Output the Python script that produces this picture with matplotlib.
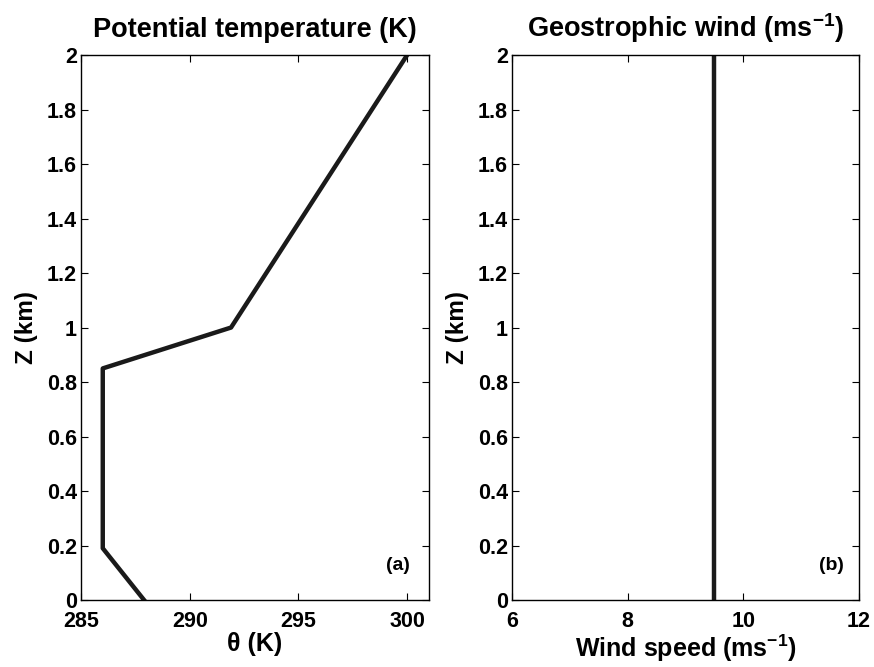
import numpy as np
import matplotlib
matplotlib.use("Agg")
import matplotlib.pyplot as plt

# profile data
z_theta = [0.0, 0.19, 0.85, 1.0, 2.0]          # km
theta = [287.9, 286.0, 286.0, 291.9, 300.0]    # K
z_wind = [0.0, 2.0]                            # km
wind = [9.5, 9.5]                              # m/s

yticks = [0, 0.2, 0.4, 0.6, 0.8, 1, 1.2, 1.4, 1.6, 1.8, 2]
ytick_labels = ["0", "0.2", "0.4", "0.6", "0.8", "1", "1.2", "1.4", "1.6", "1.8", "2"]
theta_ticks = [285, 290, 295, 300]
wind_ticks = [6, 8, 10, 12]

plt.rcParams["font.family"] = ["Liberation Sans", "DejaVu Sans"]
plt.rcParams["font.weight"] = "bold"
plt.rcParams["mathtext.fontset"] = "custom"
plt.rcParams["mathtext.rm"] = "Liberation Sans:bold"
plt.rcParams["mathtext.it"] = "Liberation Sans:bold"
plt.rcParams["mathtext.bf"] = "Liberation Sans:bold"

fig = plt.figure(figsize=(8.74, 6.67), dpi=100)
ax1 = fig.add_axes([0.0927, 0.1004, 0.398, 0.8171])
ax2 = fig.add_axes([0.5858, 0.1004, 0.397, 0.8171])

ax1.plot(theta, z_theta, color="#1a1a1a", lw=3.2, solid_joinstyle="round")
ax2.plot(wind, z_wind, color="#1a1a1a", lw=3.2)

ax1.set_xlim(285, 301)
ax1.set_xticks(theta_ticks)
ax2.set_xlim(6, 12)
ax2.set_xticks(wind_ticks)

for ax in (ax1, ax2):
    ax.set_ylim(0, 2)
    ax.set_yticks(yticks)
    ax.set_yticklabels(ytick_labels)
    ax.tick_params(direction="in", top=True, right=True, length=5,
                   width=0.8, labelsize=15.5)
    ax.tick_params(axis="x", pad=8)
    ax.tick_params(axis="y", pad=3)
    for lab in ax.get_xticklabels() + ax.get_yticklabels():
        lab.set_fontweight("bold")
    for s in ax.spines.values():
        s.set_linewidth(1.0)
    ax.set_ylabel("Z (km)", fontsize=17.5, fontweight="bold", labelpad=6)

ax1.set_title("Potential temperature (K)", fontsize=19.5, fontweight="bold", pad=13)
ax2.set_title(r"Geostrophic wind (ms$^{-1}$)", fontsize=19.5, fontweight="bold", pad=13)
ax1.set_xlabel("θ (K)", fontsize=18, fontweight="bold", labelpad=0)
ax2.set_xlabel(r"Wind speed (ms$^{-1}$)", fontsize=18, fontweight="bold", labelpad=0)

ax1.text(0.91, 0.064, "(a)", transform=ax1.transAxes, ha="center", va="center",
         fontsize=14, fontweight="bold")
ax2.text(0.922, 0.064, "(b)", transform=ax2.transAxes, ha="center", va="center",
         fontsize=14, fontweight="bold")

fig.savefig("out.png", dpi=100)
